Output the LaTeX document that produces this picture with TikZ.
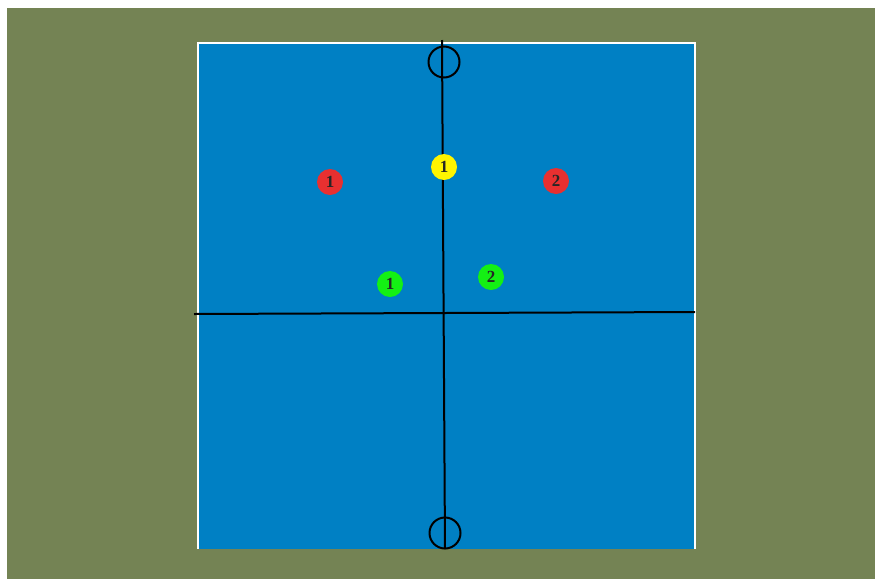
\documentclass[tikz,border=0pt]{standalone}
\usepackage{fontspec}
\setmainfont{Liberation Serif}
\usepackage{tikz}
\usetikzlibrary{positioning}
\definecolor{fieldolive}{RGB}{116,131,84}
\definecolor{courtblue}{RGB}{0,128,196}
\definecolor{redteam}{RGB}{232,48,48}
\definecolor{greenteam}{RGB}{20,240,20}
\definecolor{ballyellow}{RGB}{255,245,0}
\tikzset{
  player/.style={circle, minimum size=26pt, inner sep=0pt, text centered, text=black!85, font=\fontsize{17}{19}\selectfont\bfseries},
  redplayer/.style={player, fill=redteam},
  greenplayer/.style={player, fill=greenteam},
  yellowplayer/.style={player, fill=ballyellow},
  goal/.style={circle, draw=black, line width=2pt, minimum size=31pt, inner sep=0pt},
  courtline/.style={black, line width=2pt}
}

\begin{document}
\begin{tikzpicture}[x=1pt, y=-1pt]

  \useasboundingbox (0,0) rectangle (875,579);
  \fill[white] (0,0) rectangle (875,579);
  \fill[fieldolive] (7,8) rectangle (875,579);
  \fill[courtblue] (198,43) rectangle (695,549);
  \draw[white, line width=1.2pt] (198,549) -- (198,43) -- (695,43) -- (695,549);

  \coordinate (top) at (442,40);
  \coordinate (bottom) at (445,549);
  \coordinate (left) at (194,314);
  \coordinate (right) at (695,312);

  \draw [courtline] (top) -- (bottom);
  \draw [courtline] (left) -- (right);

  \node (goaltop) [goal] at (444,62) {};
  \node (goalbottom) [goal] at (445,533) {};

  \node (red1) [redplayer] at (330,182) {1};
  \node (yellow1) [yellowplayer] at (444,167) {1};
  \node (red2) [redplayer] at (556,181) {2};
  \node (green1) [greenplayer] at (390,284) {1};
  \node (green2) [greenplayer] at (491,277) {2};

\end{tikzpicture}
\end{document}
